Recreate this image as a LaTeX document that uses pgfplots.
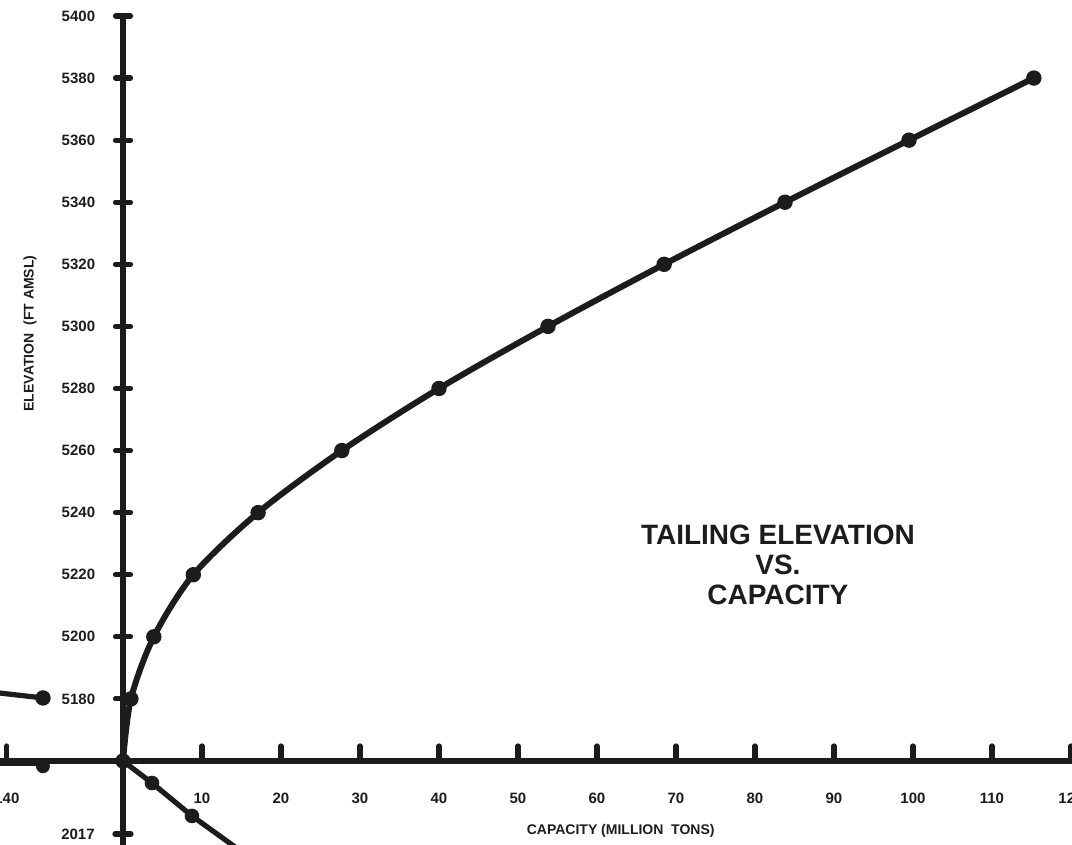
\documentclass[border=0pt]{standalone}
\usepackage{pgfplots}
\pgfplotsset{compat=1.18}
\usepackage{fontspec}
\setmainfont{Liberation Sans}
\definecolor{ink}{HTML}{1C1C1C}
\begin{document}
\begin{tikzpicture}
\begin{axis}[
  scale only axis,
  width=536pt, height=372.5pt,
  xmin=-15.57, xmax=120.13,
  ymin=5160, ymax=5400,
  enlargelimits=false,
  clip=false,
  axis x line=bottom,
  axis y line=center,
  axis line style={-, line width=3pt, draw=ink},
  xtick={10,20,...,120},
  ytick={5180,5200,...,5400},
  extra x ticks={-14.7},
  extra x tick labels={140},
  xtick align=inside,
  ytick align=center,
  major tick length=7.5pt,
  tick style={line width=2.6pt, line cap=round, draw=ink},
  /pgf/number format/assume math mode=true,
  /pgf/number format/1000 sep={},
  tick label style={font=\bfseries\fontsize{7.5}{9}\selectfont, text=ink},
  xticklabel style={anchor=center, inner sep=0pt, yshift=-18.5pt},
  yticklabel style={anchor=east, inner sep=0pt, xshift=-10pt},
]
% main curve: tailing elevation vs capacity
\addplot[ink, line width=3pt, smooth, mark=*, mark size=3.6pt, mark options={fill=ink, draw=ink, line width=0.5pt}]
  coordinates {(0,5160) (1.0,5180) (3.9,5200) (8.9,5220) (17.1,5240) (27.7,5260)
               (40.0,5280) (53.8,5300) (68.5,5320) (83.8,5340) (99.5,5360) (115.3,5380)};
% left neighbouring panel (cropped)
\addplot[ink, line width=2.6pt, mark=*, mark size=3.6pt, mark indices={2}, mark options={fill=ink, draw=ink, line width=0.5pt}]
  coordinates {(-16,5182) (-10.13,5180.3)};
\addplot[ink, line width=3.4pt, forget plot] coordinates {(-16,5159.6) (-9.5,5159.6)};
\addplot[ink, only marks, mark=*, mark size=3.2pt, mark options={fill=ink, draw=ink, line width=0.5pt}]
  coordinates {(-10.13,5158.3)};
% lower neighbouring panel (cropped)
\addplot[ink, line width=3pt, forget plot] coordinates {(0,5160) (0,5130)};
\addplot[ink, line width=2.6pt, line cap=round, only marks, mark=-, mark size=4pt, mark options={line width=2.6pt}]
  coordinates {(0,5136.5)};
\addplot[ink, line width=2.6pt, mark=*, mark size=3.4pt, mark indices={2,3}, mark options={fill=ink, draw=ink, line width=0.5pt}]
  coordinates {(0,5160) (3.67,5152.9) (8.73,5142.3) (15,5130.8)};
\node[anchor=east, inner sep=0pt, text=ink, font=\bfseries\fontsize{7.5}{9}\selectfont] at (axis cs:-3.54,5136.5) {2017};
% labels
\node[rotate=90, text=ink, font=\bfseries\fontsize{7}{8}\selectfont] at (axis cs:-11.77,5297.7) {ELEVATION\ \ (FT AMSL)};
\node[text=ink, font=\bfseries\fontsize{7}{8}\selectfont] at (axis cs:63.0,5137.4) {CAPACITY (MILLION\ \ TONS)};
\node[align=center, text=ink, font=\bfseries\fontsize{14}{15}\selectfont] at (axis cs:82.9,5223.2) {TAILING ELEVATION\\VS.\\CAPACITY};
\coordinate (bl) at (axis cs:-15.57,5132.94);
\coordinate (tr) at (axis cs:120.13,5405.15);
\end{axis}
\pgfresetboundingbox
\path[use as bounding box] (bl) rectangle (tr);
\end{tikzpicture}
\end{document}
